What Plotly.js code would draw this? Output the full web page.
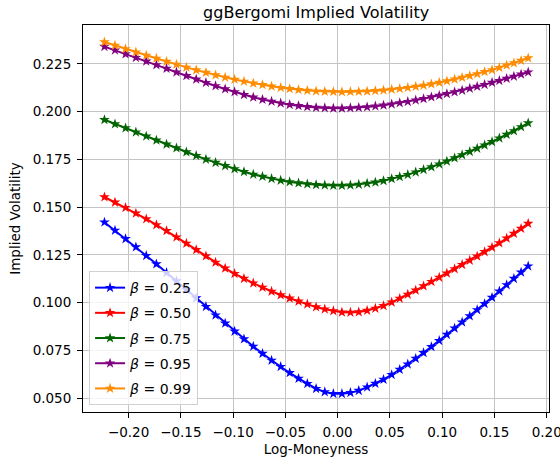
<!DOCTYPE html>
<html>
<head>
<meta charset="utf-8">
<script src="https://cdn.plot.ly/plotly-3.0.1.min.js"></script>
<style>html,body{margin:0;padding:0;background:#fff}#chart{width:560px;height:460px}</style>
</head>
<body>
<div id="chart"></div>
<script>
// Log-moneyness grid (strikes 80..120, 50 points)
const logMoneyness = [
 -0.2231, -0.2130, -0.2029, -0.1930, -0.1831, -0.1734, -0.1637, -0.1542, -0.1447, -0.1353,
 -0.1260, -0.1168, -0.1076, -0.0986, -0.0896, -0.0807, -0.0719, -0.0632, -0.0545, -0.0459,
 -0.0374, -0.0290, -0.0206, -0.0123, -0.0041, 0.0041, 0.0122, 0.0202, 0.0282, 0.0361,
 0.0439, 0.0517, 0.0594, 0.0671, 0.0747, 0.0822, 0.0897, 0.0972, 0.1045, 0.1119,
 0.1191, 0.1264, 0.1335, 0.1406, 0.1477, 0.1547, 0.1617, 0.1686, 0.1755, 0.1823];

const betaLabels = ["0.25", "0.50", "0.75", "0.95", "0.99"];

const iv_b025 = [
 0.1421, 0.1378, 0.1334, 0.1291, 0.1246, 0.1202, 0.1157, 0.1113, 0.1068, 0.1024,
 0.0979, 0.0935, 0.0892, 0.0850, 0.0810, 0.0771, 0.0734, 0.0698, 0.0665, 0.0633,
 0.0603, 0.0576, 0.0550, 0.0533, 0.0524, 0.0524, 0.0529, 0.0540, 0.0558, 0.0577,
 0.0598, 0.0623, 0.0650, 0.0678, 0.0708, 0.0738, 0.0769, 0.0801, 0.0833, 0.0866,
 0.0898, 0.0930, 0.0962, 0.0994, 0.1027, 0.1060, 0.1093, 0.1126, 0.1159, 0.1191];

const iv_b050 = [
 0.1553, 0.1525, 0.1497, 0.1468, 0.1438, 0.1407, 0.1376, 0.1343, 0.1310, 0.1277,
 0.1244, 0.1211, 0.1180, 0.1152, 0.1126, 0.1102, 0.1080, 0.1059, 0.1040, 0.1023,
 0.1007, 0.0992, 0.0977, 0.0966, 0.0957, 0.0950, 0.0949, 0.0951, 0.0959, 0.0970,
 0.0984, 0.1002, 0.1022, 0.1043, 0.1065, 0.1087, 0.1110, 0.1132, 0.1154, 0.1177,
 0.1199, 0.1221, 0.1243, 0.1266, 0.1289, 0.1312, 0.1337, 0.1362, 0.1388, 0.1414];

const iv_b075 = [
 0.1957, 0.1935, 0.1914, 0.1892, 0.1871, 0.1850, 0.1829, 0.1809, 0.1788, 0.1769,
 0.1750, 0.1733, 0.1716, 0.1700, 0.1685, 0.1671, 0.1660, 0.1649, 0.1640, 0.1632,
 0.1626, 0.1621, 0.1617, 0.1615, 0.1613, 0.1613, 0.1615, 0.1619, 0.1624, 0.1630,
 0.1638, 0.1648, 0.1659, 0.1670, 0.1683, 0.1696, 0.1710, 0.1725, 0.1740, 0.1757,
 0.1773, 0.1790, 0.1807, 0.1824, 0.1842, 0.1861, 0.1880, 0.1899, 0.1920, 0.1940];

const iv_b095 = [
 0.2340, 0.2321, 0.2301, 0.2282, 0.2263, 0.2244, 0.2225, 0.2206, 0.2187, 0.2169,
 0.2151, 0.2134, 0.2118, 0.2103, 0.2088, 0.2075, 0.2063, 0.2053, 0.2044, 0.2036,
 0.2030, 0.2025, 0.2021, 0.2019, 0.2017, 0.2017, 0.2019, 0.2021, 0.2024, 0.2028,
 0.2033, 0.2039, 0.2045, 0.2052, 0.2060, 0.2067, 0.2076, 0.2084, 0.2093, 0.2102,
 0.2111, 0.2121, 0.2131, 0.2141, 0.2152, 0.2162, 0.2173, 0.2184, 0.2195, 0.2206];

const iv_b099 = [
 0.2364, 0.2346, 0.2328, 0.2311, 0.2294, 0.2278, 0.2262, 0.2247, 0.2231, 0.2217,
 0.2204, 0.2191, 0.2179, 0.2168, 0.2158, 0.2148, 0.2140, 0.2132, 0.2125, 0.2119,
 0.2114, 0.2110, 0.2107, 0.2105, 0.2104, 0.2103, 0.2104, 0.2105, 0.2106, 0.2109,
 0.2112, 0.2116, 0.2120, 0.2125, 0.2131, 0.2137, 0.2144, 0.2152, 0.2160, 0.2169,
 0.2178, 0.2187, 0.2197, 0.2208, 0.2218, 0.2230, 0.2242, 0.2254, 0.2267, 0.2280];

const xTicks = [-0.20, -0.15, -0.10, -0.05, 0.00, 0.05, 0.10, 0.15, 0.20];
const yTicks = [0.050, 0.075, 0.100, 0.125, 0.150, 0.175, 0.200, 0.225];

const seriesValues = [iv_b025, iv_b050, iv_b075, iv_b095, iv_b099];
const colors = ["#0000ff", "#ff0000", "#006400", "#800080", "#ff8c00"];

const traces = seriesValues.map((vals, i) => ({
  type: "scatter",
  mode: "lines+markers",
  x: logMoneyness,
  y: vals,
  name: "<i>β</i> = " + betaLabels[i],
  legendgroup: "g" + i,
  line: {color: colors[i], width: 2},
  marker: {symbol: "star", size: 8, color: colors[i], line: {width: 0}}
}));

const font = {family: "DejaVu Sans, sans-serif", color: "#000"};

const layout = {
  width: 560, height: 460,
  paper_bgcolor: "#fff", plot_bgcolor: "#fff",
  margin: {l: 83, r: 11, t: 25, b: 48},
  font: Object.assign({size: 13.5}, font),
  title: {text: "ggBergomi Implied Volatility", font: Object.assign({size: 16}, font),
          x: 0.5645, xanchor: "center", y: 0.974, yanchor: "middle"},
  xaxis: {
    range: [-0.2436, 0.2022], tickvals: xTicks, tickformat: ".2f",
    ticks: "outside", ticklen: 5, tickwidth: 1, tickcolor: "#000",
    showline: true, linecolor: "#000", linewidth: 1, mirror: true,
    showgrid: true, gridcolor: "#c4c4c4", gridwidth: 1, zeroline: false,
    ticklabelstandoff: 3, ticklabeloverflow: "allow",
    title: {text: "Log-Moneyness", font: Object.assign({size: 13.5}, font), standoff: 5}
  },
  yaxis: {
    range: [0.0428, 0.2453], tickvals: yTicks, tickformat: ".3f",
    ticks: "outside", ticklen: 5, tickwidth: 1, tickcolor: "#000",
    showline: true, linecolor: "#000", linewidth: 1, mirror: true,
    showgrid: true, gridcolor: "#c4c4c4", gridwidth: 1, zeroline: false,
    ticklabelstandoff: 3,
    title: {text: "Implied Volatility", font: Object.assign({size: 13.5}, font), standoff: 8}
  },
  showlegend: true,
  legend: {
    x: 0.013, y: 0.018, xanchor: "left", yanchor: "bottom",
    bgcolor: "rgba(255,255,255,0.8)", bordercolor: "#d0d0d0", borderwidth: 1,
    font: Object.assign({size: 14}, font),
    traceorder: "grouped", tracegroupgap: 4
  }
};

Plotly.newPlot("chart", traces, layout, {displayModeBar: false, staticPlot: true});
</script>
</body>
</html>
